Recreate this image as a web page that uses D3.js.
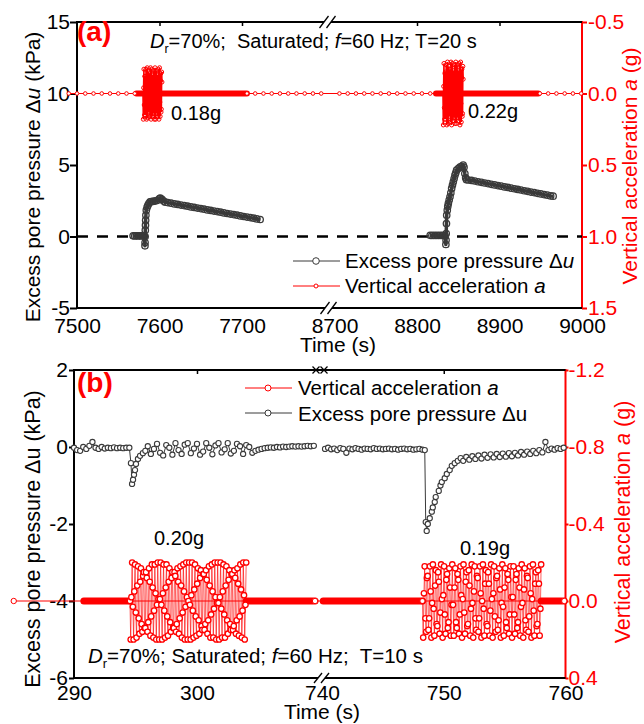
<!DOCTYPE html>
<html>
<head>
<meta charset="utf-8">
<script src="https://cdn.jsdelivr.net/npm/d3@7/dist/d3.min.js"></script>
<style>
  html, body { margin: 0; padding: 0; background: #fff; }
  svg { display: block; }
  text { white-space: pre; }
</style>
</head>
<body>
<svg id="chart" width="644" height="724"></svg>
<script>
// ================= Panel (a): Dr=70%, saturated, f=60 Hz, T=20 s =================
// Excess pore pressure (kPa), first shaking event
const ppTimeA1 = [7568,7570,7572,7574,7576,7578,7580,7581.5,7582.4,7582.5,7582.6,7582.8,7583,7583.2,7583.5,7584,7585,7586,7587,7588.5,7590,7592,7594,7596,7598,7600,7601,7603,7605,7607,
  7610,7614,7618,7622,7626,7630,7634,7638,7642,7646,7650,7654,7658,7662,7666,7670,7674,7678,7682,7686,7690,7694,7698,7702,7706,7710,7714,7718,7722];
const ppValueA1 = [0.05,0.04,0.05,0.04,0.05,0.04,0.05,0.03,-0.65,-0.42,0.00,0.44,0.79,1.14,1.49,1.84,2.05,2.19,2.30,2.42,2.44,2.45,2.48,2.50,2.55,2.65,2.68,2.60,2.48,2.40,
  2.37,2.33,2.28,2.24,2.20,2.16,2.12,2.07,2.03,1.99,1.95,1.91,1.86,1.82,1.78,1.74,1.70,1.65,1.61,1.57,1.53,1.49,1.44,1.40,1.36,1.32,1.28,1.23,1.19];
// Excess pore pressure (kPa), second shaking event
const ppTimeA2 = [8816,8818,8820,8822,8824,8826,8828,8830,8832,8834,8835,8835.2,8835.4,8835.7,8836,8836.7,8837.3,8838,8839,8840,8841,8842,8843,8844,8845,8846,8847,8848,8850,8852,8854,8856,8857,8858,8859,8860,8862,
  8866,8870,8874,8878,8882,8886,8890,8894,8898,8902,8906,8910,8914,8918,8922,8926,8930,8934,8938,8942,8946,8950,8954,8958,8962,8965];
const ppValueA2 = [0.08,0.07,0.08,0.07,0.08,0.07,0.08,0.07,0.08,0.06,-0.56,-0.26,0.21,0.91,1.49,1.84,2.10,2.31,2.55,2.78,3.05,3.36,3.60,3.82,4.05,4.29,4.45,4.64,4.75,4.85,4.90,5.00,4.85,4.40,4.10,3.97,3.95,
  3.92,3.88,3.83,3.79,3.74,3.70,3.65,3.61,3.56,3.52,3.47,3.43,3.38,3.34,3.29,3.25,3.20,3.16,3.11,3.07,3.02,2.98,2.93,2.89,2.84,2.82];
// Vertical acceleration (g): resting samples, quiet stretches and shaking bursts
const accRestTimeA = [7490,7500,7510,7520,7530,7540,7550,7560,7570,7706,7716,7726,7736,7746,7756,7766,7776,7786,7796,
  8706,8716,8726,8736,8746,8756,8766,8776,8786,8796,8806,8816,8949,8959,8969,8979,8989,8999];
const accQuietSpanA = [[7572, 7580], [7603, 7706], [8823, 8831.5], [8856, 8947]];
const accBurstSpanA = [[7580, 7603], [8831.5, 8856]];
const accBurstA1 = [0,0.18,-0.04,-0.17,0.08,0.15,-0.12,-0.12,0.15,0.09,-0.17,-0.05,0.18,0.01,-0.18,0.04,0.17,-0.08,-0.15,0.11,0.13,-0.14,-0.09,0.16,0.06,-0.18,-0.01,0.18,-0.03,-0.17,0.07,0.16,
  -0.11,-0.13,0.14,0.10,-0.16,-0.06,0.18,0.02,-0.18,0.02,0.18,-0.06,-0.16,0.10,0.14,-0.13,-0.11,0.16,0.07,-0.17,-0.03,0.18,-0.01,-0.18,0.06,0.16,-0.09,-0.14,0.13,0.11,-0.15,-0.08];
const accBurstA2 = [0,0.22,-0.05,-0.21,0.10,0.18,-0.14,-0.15,0.18,0.11,-0.20,-0.06,0.22,0.01,-0.22,0.04,0.21,-0.09,-0.19,0.14,0.16,-0.17,-0.11,0.20,0.07,-0.22,-0.02,0.22,-0.03,-0.21,0.08,0.19,
  -0.13,-0.16,0.17,0.12,-0.20,-0.08,0.21,0.03,-0.22,0.03,0.21,-0.08,-0.20,0.12,0.17,-0.16,-0.13,0.19,0.08,-0.21,-0.03,0.22,-0.02,-0.22,0.07,0.20,-0.11,-0.17,0.16,0.14,-0.19,-0.10];
const xTicksA = [7500, 7600, 7700, 8700, 8800, 8900, 9000];
const xTopTicksA = [7600, 7700, 8800, 8900];
const ppTicksA = [-5, 0, 5, 10, 15];
const accTicksA = [-0.5, 0.0, 0.5, 1.0, 1.5];

// ================= Panel (b): Dr=70%, saturated, f=60 Hz, T=10 s =================
const ppTimeB1 = [290,290.25,290.5,290.75,291,291.25,291.5,291.75,292,292.25,292.5,292.75,293,293.25,293.5,293.75,294,294.25,294.5,
  294.63,294.72,294.8,294.88,294.96,295.04,295.2,295.37,295.6,295.8,
  296,296.25,296.5,296.75,297,297.25,297.5,297.75,298,298.25,298.5,298.75,299,299.25,299.5,299.75,300,300.25,300.5,300.75,301,301.25,301.5,301.75,302,302.25,302.5,302.75,303,303.25,303.5,303.75,304,304.25,304.5,
  304.75,305,305.25,305.5,305.75,306,306.25,306.5,306.75,307,307.25,307.5,307.75,308,308.25,308.5,308.75,309,309.25,309.5];
const ppValueB1 = [-0.02,-0.08,-0.10,0.00,-0.05,0.03,0.13,-0.02,-0.05,0.00,-0.04,-0.02,-0.03,-0.01,-0.03,-0.02,-0.03,-0.02,-0.02,
  -0.42,-0.96,-0.85,-0.72,-0.60,-0.44,-0.31,-0.23,-0.16,-0.10,
  0.02,-0.18,-0.05,0.08,-0.15,-0.22,0.05,-0.02,-0.20,0.10,-0.08,-0.18,0.06,0.10,-0.16,-0.04,0.08,-0.20,-0.12,0.10,-0.02,-0.19,0.04,0.10,-0.14,-0.06,0.10,-0.17,-0.10,0.08,0.02,-0.18,0.05,0.00,-0.15,
  -0.10,-0.07,-0.05,-0.03,-0.02,-0.01,-0.02,0.00,-0.01,0.01,0.00,0.01,0.02,0.01,0.02,0.01,0.02,0.03,0.02,0.03];
const ppTimeB2 = [740.25,740.5,740.75,741,741.25,741.5,741.75,742,742.25,742.5,742.75,743,743.25,743.5,743.75,744,744.25,744.5,744.75,745,745.25,745.5,745.75,746,746.25,746.5,746.75,747,747.25,747.5,747.75,748,748.25,
  748.44,748.52,748.6,748.69,748.85,749.02,749.1,749.26,749.34,749.59,749.73,749.84,750.08,750.25,750.49,750.66,750.9,751.15,751.39,
  751.6,751.85,752.1,752.35,752.6,752.85,753.1,753.35,753.6,753.85,754.1,754.35,754.6,754.85,755.1,755.35,755.6,755.85,756.1,756.35,756.6,756.85,757.1,757.35,757.6,757.85,758.1,758.35,758.6,758.85,759.1,759.35,759.6,759.85];
const ppValueB2 = [-0.05,-0.02,-0.06,-0.04,-0.08,-0.03,-0.05,-0.15,-0.04,-0.06,-0.03,-0.05,-0.07,-0.04,-0.05,-0.06,-0.03,-0.05,-0.04,-0.06,-0.05,-0.04,-0.06,-0.05,-0.07,-0.05,-0.04,-0.06,-0.05,-0.07,-0.06,-0.05,-0.07,
  -0.08,-1.95,-2.18,-2.00,-1.85,-1.68,-1.57,-1.43,-1.30,-1.14,-1.00,-0.91,-0.81,-0.70,-0.60,-0.49,-0.42,-0.36,-0.29,
  -0.36,-0.26,-0.33,-0.24,-0.31,-0.22,-0.30,-0.20,-0.28,-0.19,-0.27,-0.18,-0.26,-0.17,-0.25,-0.16,-0.24,-0.15,-0.22,-0.13,-0.20,-0.12,-0.18,-0.10,-0.16,-0.08,-0.14,0.13,-0.08,-0.04,-0.07,-0.03,-0.05,-0.02];
const accRestTimeB = [285.1, 309.6, 759.9];
const accQuietSpanB = [[290.8, 294.55], [304.0, 309.6], [740.1, 748.25], [758.0, 759.9]];
const accBurstSpanB = [[294.55, 304.0], [748.25, 758.0]];
const accBurstB1 = [0,0.20,-0.02,-0.20,0.03,0.20,-0.05,-0.19,0.06,0.19,-0.08,-0.18,0.09,0.17,-0.10,-0.17,0.12,0.16,-0.13,-0.15,0.14,0.14,-0.15,-0.12,0.16,0.11,-0.17,-0.10,0.18,0.08,-0.19,-0.07,0.19,0.05,-0.19,-0.04,0.20,0.02,-0.20,-0.01,
  0.20,-0.01,-0.20,0.02,0.20,-0.04,-0.19,0.05,0.19,-0.07,-0.19,0.08,0.18,-0.10,-0.17,0.11,0.16,-0.12,-0.15,0.14,0.14,-0.15,-0.13,0.16,0.12,-0.17,-0.10,0.17,0.09,-0.18,-0.08,0.19,0.06,-0.19,-0.05,0.20,0.03,-0.20,-0.02,0.20,
  0,-0.20,0.02,0.20,-0.03,-0.20,0.05,0.19,-0.06,-0.19,0.08,0.18,-0.09,-0.17,0.10,0.17,-0.12,-0.16,0.13,0.15,-0.14,-0.14,0.15,0.12,-0.16,-0.11,0.17,0.10,-0.18,-0.08,0.19,0.07,-0.19,-0.05,0.19,0.04,-0.20,-0.02,0.20,0.01,
  -0.20,0.01,0.20,-0.02,-0.20,0.04,0.19,-0.05,-0.19,0.07,0.19,-0.08,-0.18,0.10,0.17,-0.11,-0.16,0.12,0.15,-0.14,-0.14,0.15,0.13,-0.16,-0.12,0.17,0.10,-0.17,-0.09,0.18,0.08,-0.19,-0.06,0.19,0.05,-0.20,-0.03,0.20,0.02,-0.20];
const accBurstB2 = [0,0.19,-0.04,-0.18,0.09,0.16,-0.12,-0.13,0.15,0.09,-0.18,-0.05,0.19,0.01,-0.19,0.04,0.18,-0.08,-0.16,0.12,0.13,-0.15,-0.10,0.17,0.06,-0.19,-0.01,0.19,-0.03,-0.18,0.07,0.17,-0.11,-0.14,0.14,0.11,-0.17,-0.07,0.18,0.02,
  -0.19,0.02,0.18,-0.07,-0.17,0.11,0.14,-0.14,-0.11,0.17,0.07,-0.18,-0.03,0.19,-0.01,-0.19,0.06,0.17,-0.10,-0.15,0.13,0.12,-0.16,-0.08,0.18,0.04,-0.19,0.01,0.19,-0.05,-0.18,0.09,0.15,-0.13,-0.12,0.16,0.09,-0.18,-0.04,0.19,
  0,-0.19,0.04,0.18,-0.09,-0.16,0.12,0.13,-0.15,-0.09,0.18,0.05,-0.19,-0.01,0.19,-0.04,-0.18,0.08,0.16,-0.12,-0.13,0.15,0.10,-0.17,-0.06,0.19,0.01,-0.19,0.03,0.18,-0.07,-0.17,0.11,0.14,-0.14,-0.11,0.17,0.07,-0.18,-0.02,
  0.19,-0.02,-0.18,0.07,0.17,-0.11,-0.14,0.14,0.11,-0.17,-0.07,0.18,0.03,-0.19,0.01,0.19,-0.06,-0.17,0.10,0.15,-0.13,-0.12,0.16,0.08,-0.18,-0.04,0.19,-0.01,-0.19,0.05,0.18,-0.09,-0.15,0.13,0.12,-0.16,-0.09,0.18,0.04,-0.19];
const xTicksB = [290, 300, 740, 750, 760];
const xTopTicksB = [300, 750];
const ppTicksB = [-6, -4, -2, 0, 2];
const accTicksB = [-1.2, -0.8, -0.4, 0.0, 0.4];

// ================= drawing =================
const FONT = '"Liberation Sans", Arial, Helvetica, sans-serif';
const RED = "#ff0000", GRAY = "#3a3a3a";
const svg = d3.select("#chart").attr("font-family", FONT);
svg.append("rect").attr("width", 644).attr("height", 724).attr("fill", "#fff");

const toPts = (ts, vs) => ts.map((t, i) => ({ t, v: vs[i] }));
const burstPts = (span, vs) => vs.map((v, i) => ({ t: span[0] + (span[1] - span[0]) * i / (vs.length - 1), v }));
const peakLabel = vs => d3.max(vs, Math.abs).toFixed(2) + "g";
const fmtL = d => (d < 0 ? "-" : "") + Math.abs(d);
const fmtR = d => (d < 0 ? "-" : "") + Math.abs(d).toFixed(1);

function line(g, x1, y1, x2, y2, color, w) {
  return g.append("line").attr("x1", x1).attr("y1", y1).attr("x2", x2).attr("y2", y2)
    .attr("stroke", color).attr("stroke-width", w);
}

function drawFrame(p) {
  const g = svg.append("g");
  const left = g.append("g").attr("transform", `translate(${p.x0},0)`)
    .call(d3.axisLeft(p.yL).tickValues(p.yLTicks).tickSize(p.tickL).tickPadding(p.padL).tickFormat(fmtL));
  left.attr("font-family", FONT).attr("font-size", 21);
  left.select(".domain").remove();
  left.selectAll(".tick line").attr("stroke", "#000").attr("stroke-width", 2);
  left.selectAll(".tick text").attr("fill", "#000");

  const right = g.append("g").attr("transform", `translate(${p.x1},0)`)
    .call(d3.axisRight(p.yR).tickValues(p.yRTicks).tickSize(p.tickR).tickPadding(p.padR).tickFormat(fmtR));
  right.attr("font-family", FONT).attr("font-size", 21);
  right.select(".domain").remove();
  right.selectAll(".tick line").attr("stroke", RED).attr("stroke-width", 2);
  right.selectAll(".tick text").attr("fill", RED);

  const bottom = g.append("g").attr("transform", `translate(0,${p.y1})`)
    .call(d3.axisBottom(p.x).tickValues(p.xTicks).tickSize(0).tickPadding(p.padB).tickFormat(d => String(d)));
  bottom.attr("font-family", FONT).attr("font-size", 21);
  bottom.select(".domain").remove();
  bottom.selectAll(".tick text").attr("fill", "#000");

  const top = g.append("g").attr("transform", `translate(0,${p.y0})`)
    .call(d3.axisTop(p.x).tickValues(p.topTicks).tickSize(-4).tickFormat(""));
  top.select(".domain").remove();
  top.selectAll(".tick line").attr("stroke", "#000").attr("stroke-width", 1.5);

  line(g, p.x0, p.y0 - 1, p.x0, p.y1 + 1, "#000", 2);
  line(g, p.x1, p.y0 - 1, p.x1, p.y1 + 1, RED, 2);
  line(g, p.x0, p.y1, p.gapB[0], p.y1, "#000", 2);
  line(g, p.gapB[1], p.y1, p.x1, p.y1, "#000", 2);
  if (p.gapT) {
    line(g, p.x0, p.y0, p.gapT[0], p.y0, "#000", 2);
    line(g, p.gapT[1], p.y0, p.x1, p.y0, "#000", 2);
  } else {
    line(g, p.x0, p.y0, p.x1, p.y0, "#000", 2);
  }
  return g;
}

function slashes(g, xs, y, dx, dy) {
  xs.forEach(cx => line(g, cx - dx, y + dy, cx + dx, y - dy, "#000", 1.3));
}
function crosses(g, xs, y, d) {
  xs.forEach(cx => {
    line(g, cx - d, y - d, cx + d, y + d, "#000", 1.2);
    line(g, cx - d, y + d, cx + d, y - d, "#000", 1.2);
  });
}

// pore-pressure trace: connecting line plus open circle markers
function drawPore(g, pts, x, y, o) {
  g.append("path").datum(pts).attr("fill", "none").attr("stroke", GRAY).attr("stroke-width", o.lw)
    .attr("stroke-linejoin", "round").attr("d", d3.line().x(d => x(d.t)).y(d => y(d.v)));
  g.append("g").selectAll("circle").data(pts).join("circle")
    .attr("cx", d => x(d.t)).attr("cy", d => y(d.v)).attr("r", o.r)
    .attr("fill", o.fill).attr("stroke", GRAY).attr("stroke-width", o.sw);
}

// acceleration trace: resting samples, dense quiet stretches and shaking bursts
function drawAccel(g, x, y, rest, quiet, bursts, opt) {
  const restPts = rest.map(t => ({ t, v: 0 }));
  const quietEnds = quiet.flatMap(s => [{ t: s[0], v: 0 }, { t: s[1], v: 0 }]);
  const all = restPts.concat(quietEnds).sort((a, b) => a.t - b.t);
  const ln = d3.line().x(d => x(d.t)).y(d => y(d.v));
  g.append("path").datum(all).attr("fill", "none").attr("stroke", RED).attr("stroke-width", 1).attr("d", ln);
  quiet.forEach(s => line(g, x(s[0]), y(0), x(s[1]), y(0), RED, opt.thick).attr("stroke-linecap", "round"));
  bursts.forEach(b => {
    g.append("path").datum(b).attr("fill", "none").attr("stroke", RED).attr("stroke-width", opt.burstLine)
      .attr("stroke-opacity", opt.burstOpacity).attr("d", ln);
    g.append("g").selectAll("circle").data(b).join("circle")
      .attr("cx", d => x(d.t)).attr("cy", d => y(d.v)).attr("r", opt.rb)
      .attr("fill", opt.burstFill).attr("stroke", RED).attr("stroke-width", opt.sw);
  });
  g.append("g").selectAll("circle").data(restPts).join("circle")
    .attr("cx", d => x(d.t)).attr("cy", d => y(d.v)).attr("r", opt.rr)
    .attr("fill", "#fff").attr("stroke", RED).attr("stroke-width", 1);
}

function richText(g, x, y, size, parts, attrs) {
  const t = g.append("text").attr("x", x).attr("y", y).attr("font-size", size).attr("fill", "#000");
  Object.entries(attrs || {}).forEach(([k, v]) => t.attr(k, v));
  parts.forEach(p => {
    const s = t.append("tspan").text(p.s);
    if (p.i) s.attr("font-style", "italic");
    if (p.sub) s.attr("font-size", size * 0.62).attr("dy", 5);
    if (p.up) s.attr("dy", -5);
  });
  return t;
}

// ---------- panel (a) ----------
{
  const x = d3.scaleLinear().domain([7500, 7800, 8700, 9000]).range([77, 324.5, 334.5, 582]);
  const yP = d3.scaleLinear().domain([-5, 15]).range([308, 22]);
  const yA = d3.scaleLinear().domain([1.5, -0.5]).range([308, 22]);
  const g = drawFrame({ x, yL: yP, yR: yA, x0: 77, x1: 582, y0: 22, y1: 308,
    yLTicks: ppTicksA, yRTicks: accTicksA, xTicks: xTicksA, topTicks: xTopTicksA,
    tickL: 7, padL: 0, tickR: 5, padR: 1, padB: 10, gapT: [324, 331], gapB: [325, 332] });
  slashes(g, [324, 331], 22, 4.5, 6);
  slashes(g, [325, 332], 308, 4.5, 6);

  const data = svg.append("g");
  data.append("line").attr("x1", 77).attr("x2", 582).attr("y1", yP(0)).attr("y2", yP(0))
    .attr("stroke", "#000").attr("stroke-width", 2.6).attr("stroke-dasharray", "11 9");
  const poreOpt = { r: 3.2, fill: "none", sw: 1.3, lw: 3.5 };
  drawPore(data, toPts(ppTimeA1, ppValueA1), x, yP, poreOpt);
  drawPore(data, toPts(ppTimeA2, ppValueA2), x, yP, poreOpt);
  drawAccel(data, x, yA, accRestTimeA, accQuietSpanA,
    [burstPts(accBurstSpanA[0], accBurstA1), burstPts(accBurstSpanA[1], accBurstA2)],
    { thick: 6, burstLine: 1.6, burstOpacity: 1, burstFill: "none", rb: 2, sw: 1, rr: 1.8 });

  svg.append("text").attr("x", 77).attr("y", 41).attr("font-size", 28).attr("font-weight", "bold")
    .attr("fill", RED).text("(a)");
  richText(svg, 150, 48, 20, [{ s: "D", i: 1 }, { s: "r", sub: 1 }, { s: "=70%;  Saturated; ", up: 1 }, { s: "f", i: 1 }, { s: "=60 Hz; T=20 s" }]);
  svg.append("text").attr("x", 171).attr("y", 120).attr("font-size", 20).text(peakLabel(accBurstA1));
  svg.append("text").attr("x", 468).attr("y", 118).attr("font-size", 20).text(peakLabel(accBurstA2));

  // legend
  line(svg, 293, 261, 340, 261, GRAY, 1);
  svg.append("circle").attr("cx", 316).attr("cy", 261).attr("r", 3.3).attr("fill", "#fff").attr("stroke", GRAY);
  line(svg, 293, 286, 340, 286, RED, 1);
  svg.append("circle").attr("cx", 316).attr("cy", 286).attr("r", 2).attr("fill", "#fff").attr("stroke", RED);
  richText(svg, 345, 268, 20.5, [{ s: "Excess pore pressure Δ" }, { s: "u", i: 1 }]);
  richText(svg, 345, 293, 20.5, [{ s: "Vertical acceleration " }, { s: "a", i: 1 }]);

  svg.append("text").attr("x", 338).attr("y", 352).attr("font-size", 21).attr("text-anchor", "middle").text("Time (s)");
  richText(svg, 0, 0, 21, [{ s: "Excess pore pressure Δ" }, { s: "u", i: 1 }, { s: " (kPa)" }],
    { transform: "translate(40,177) rotate(-90)", "text-anchor": "middle" });
  richText(svg, 0, 0, 21, [{ s: "Vertical acceleration " }, { s: "a", i: 1 }, { s: " (g)" }],
    { transform: "translate(637,166) rotate(-90)", "text-anchor": "middle", fill: RED });
}

// ---------- panel (b) ----------
{
  const x = d3.scaleLinear().domain([290, 309.7, 740, 760]).range([74, 316.3, 322, 565.5]);
  const yP = d3.scaleLinear().domain([-6, 2]).range([678, 370]);
  const yA = d3.scaleLinear().domain([0.4, -1.2]).range([678, 370]);
  const g = drawFrame({ x, yL: yP, yR: yA, x0: 74, x1: 565.5, y0: 370, y1: 678,
    yLTicks: ppTicksB, yRTicks: accTicksB, xTicks: xTicksB, topTicks: xTopTicksB,
    tickL: 5, padL: 1, tickR: 3, padR: 0, padB: 7, gapT: null, gapB: [318, 325] });
  crosses(g, [316, 324], 370, 3.5);
  slashes(g, [318, 325], 678, 4, 5);

  const data = svg.append("g");
  drawAccel(data, x, yA, accRestTimeB, accQuietSpanB,
    [burstPts(accBurstSpanB[0], accBurstB1), burstPts(accBurstSpanB[1], accBurstB2)],
    { thick: 7, burstLine: 0.7, burstOpacity: 0.9, burstFill: "#fff", rb: 2.7, sw: 1.3, rr: 2.7 });
  const poreOpt = { r: 2.6, fill: "#fff", sw: 1.1, lw: 1 };
  drawPore(data, toPts(ppTimeB1, ppValueB1), x, yP, poreOpt);
  drawPore(data, toPts(ppTimeB2, ppValueB2), x, yP, poreOpt);

  svg.append("text").attr("x", 77).attr("y", 392).attr("font-size", 28).attr("font-weight", "bold")
    .attr("fill", RED).text("(b)");
  svg.append("text").attr("x", 179).attr("y", 545).attr("font-size", 20).attr("text-anchor", "middle").text(peakLabel(accBurstB1));
  svg.append("text").attr("x", 485).attr("y", 555).attr("font-size", 20).attr("text-anchor", "middle").text(peakLabel(accBurstB2));
  richText(svg, 88, 663, 20.5, [{ s: "D", i: 1 }, { s: "r", sub: 1 }, { s: "=70%; Saturated; ", up: 1 }, { s: "f", i: 1 }, { s: "=60 Hz;  T=10 s" }]);

  // legend
  line(svg, 245, 388, 292, 388, RED, 1);
  svg.append("circle").attr("cx", 268).attr("cy", 388).attr("r", 3).attr("fill", "#fff").attr("stroke", RED);
  line(svg, 245, 413, 292, 413, GRAY, 1);
  svg.append("circle").attr("cx", 268).attr("cy", 413).attr("r", 3).attr("fill", "#fff").attr("stroke", GRAY);
  richText(svg, 298, 395, 20.5, [{ s: "Vertical acceleration " }, { s: "a", i: 1 }]);
  richText(svg, 298, 421, 20.5, [{ s: "Excess pore pressure Δu" }]);

  svg.append("text").attr("x", 322).attr("y", 719).attr("font-size", 21).attr("text-anchor", "middle").text("Time (s)");
  richText(svg, 0, 0, 21.5, [{ s: "Excess pore pressure Δu (kPa)" }],
    { transform: "translate(40,539) rotate(-90)", "text-anchor": "middle" });
  richText(svg, 0, 0, 21.5, [{ s: "Vertical acceleration " }, { s: "a", i: 1 }, { s: " (g)" }],
    { transform: "translate(630,522) rotate(-90)", "text-anchor": "middle", fill: RED });
}
</script>
</body>
</html>
